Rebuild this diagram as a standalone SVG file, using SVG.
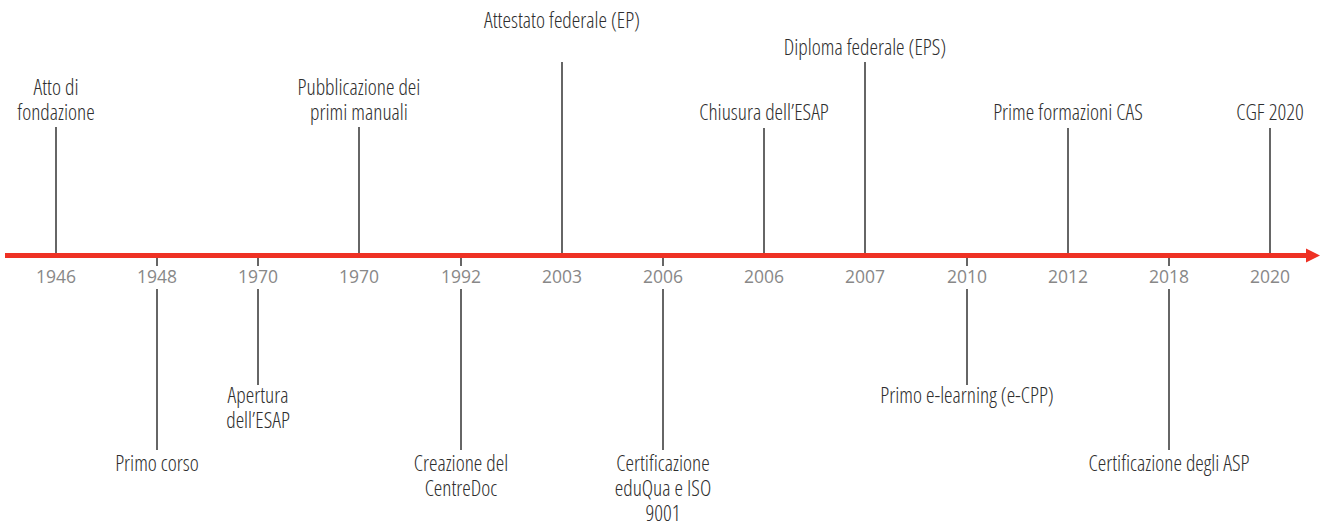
<svg xmlns="http://www.w3.org/2000/svg" width="1323" height="527" viewBox="0 0 1323 527">
<style>
.lbl{font-family:"Open Sans","DejaVu Sans Condensed",sans-serif;font-stretch:75%;font-weight:300;font-size:21.5px;fill:#2e2e2e;text-anchor:middle}
.yr{font-family:"Open Sans","DejaVu Sans",sans-serif;font-stretch:100%;font-weight:400;font-size:17.5px;fill:#888;text-anchor:middle}
.st{stroke:#333;stroke-width:1.5;fill:none}
</style>
<rect width="1323" height="527" fill="#fff"/>
<g id="connectors">
<line x1="5" y1="255.5" x2="1308" y2="255.5" stroke="#ee3124" stroke-width="5"/>
<polygon points="1306,248.5 1320,255.5 1306,262.5" fill="#ee3124"/>
</g>
<g id="e1946"><line class="st" x1="56" y1="127" x2="56" y2="253"/><text class="lbl" x="56" y="95">Atto di<tspan x="56" dy="25">fondazione</tspan></text><text class="yr" x="56" y="283">1946</text></g>
<g id="e1948"><line class="st" x1="157" y1="258" x2="157" y2="266"/><line class="st" x1="157" y1="289" x2="157" y2="450"/><text class="yr" x="157" y="283">1948</text><text class="lbl" x="157" y="471">Primo corso</text></g>
<g id="e1970a"><line class="st" x1="258" y1="258" x2="258" y2="266"/><line class="st" x1="258" y1="289" x2="258" y2="385"/><text class="yr" x="258" y="283">1970</text><text class="lbl" x="258" y="403">Apertura<tspan x="258" dy="25">dell’ESAP</tspan></text></g>
<g id="e1970b"><line class="st" x1="359" y1="127" x2="359" y2="253"/><text class="lbl" x="359" y="95">Pubblicazione dei<tspan x="359" dy="25">primi manuali</tspan></text><text class="yr" x="359" y="283">1970</text></g>
<g id="e1992"><line class="st" x1="461" y1="258" x2="461" y2="266"/><line class="st" x1="461" y1="289" x2="461" y2="450"/><text class="yr" x="461" y="283">1992</text><text class="lbl" x="461" y="471">Creazione del<tspan x="461" dy="25">CentreDoc</tspan></text></g>
<g id="e2003"><line class="st" x1="562" y1="62" x2="562" y2="253"/><text class="lbl" x="562" y="28">Attestato federale (EP)</text><text class="yr" x="562" y="283">2003</text></g>
<g id="e2006a"><line class="st" x1="663" y1="258" x2="663" y2="266"/><line class="st" x1="663" y1="289" x2="663" y2="450"/><text class="yr" x="663" y="283">2006</text><text class="lbl" x="663" y="471">Certificazione<tspan x="663" dy="25">eduQua e ISO</tspan><tspan x="663" dy="25">9001</tspan></text></g>
<g id="e2006b"><line class="st" x1="764" y1="128" x2="764" y2="253"/><text class="lbl" x="764" y="120">Chiusura dell’ESAP</text><text class="yr" x="764" y="283">2006</text></g>
<g id="e2007"><line class="st" x1="865" y1="62" x2="865" y2="253"/><text class="lbl" x="865" y="55">Diploma federale (EPS)</text><text class="yr" x="865" y="283">2007</text></g>
<g id="e2010"><line class="st" x1="967" y1="258" x2="967" y2="266"/><line class="st" x1="967" y1="289" x2="967" y2="385"/><text class="yr" x="967" y="283">2010</text><text class="lbl" x="967" y="403">Primo e-learning (e-CPP)</text></g>
<g id="e2012"><line class="st" x1="1068" y1="128" x2="1068" y2="253"/><text class="lbl" x="1068" y="120">Prime formazioni CAS</text><text class="yr" x="1068" y="283">2012</text></g>
<g id="e2018"><line class="st" x1="1169" y1="258" x2="1169" y2="266"/><line class="st" x1="1169" y1="289" x2="1169" y2="450"/><text class="yr" x="1169" y="283">2018</text><text class="lbl" x="1169" y="471">Certificazione degli ASP</text></g>
<g id="e2020"><line class="st" x1="1270" y1="128" x2="1270" y2="253"/><text class="lbl" x="1270" y="120">CGF 2020</text><text class="yr" x="1270" y="283">2020</text></g>
</svg>
